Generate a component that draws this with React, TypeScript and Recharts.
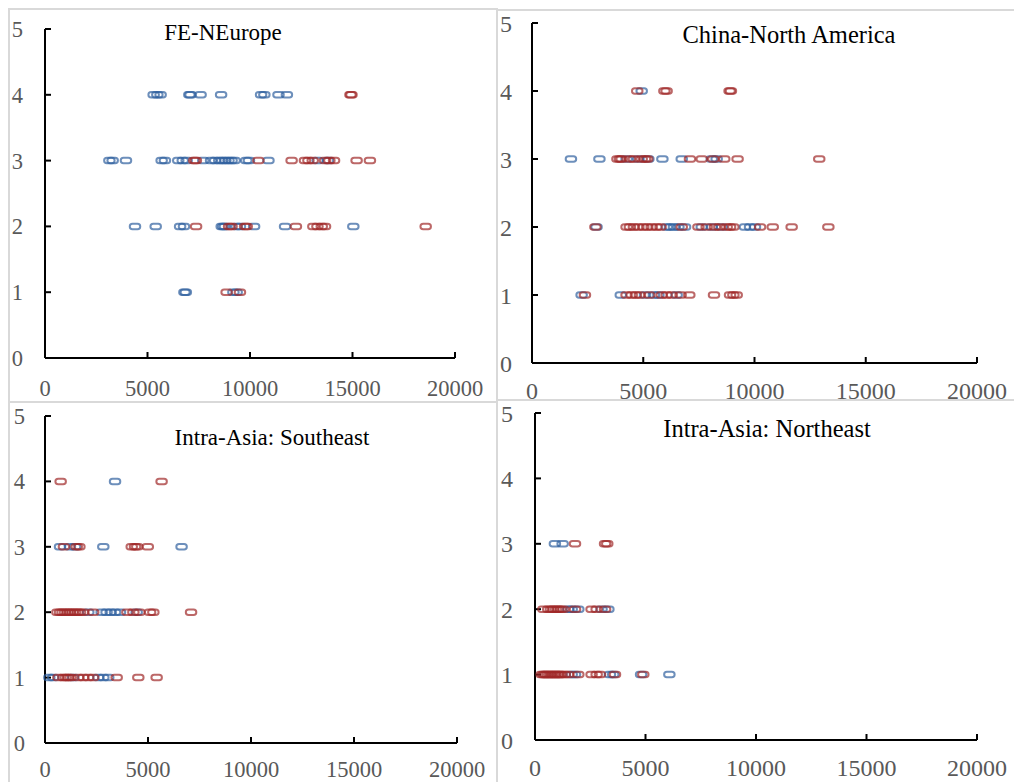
import { ScatterChart, Scatter, XAxis, YAxis } from "recharts";

// [distance, level] pairs per trade lane
type Pt = [number, number];

const X_TICKS = [0, 5000, 10000, 15000, 20000];
const Y_TICKS = [0, 1, 2, 3, 4, 5];

const FE_BLUE: Pt[] = [
  [5300, 4], [5480, 4], [5640, 4], [7040, 4], [7100, 4], [7590, 4], [8590, 4], [10540, 4], [10700, 4], [11390, 4], [11800, 4],
  [3140, 3], [3300, 3], [3950, 3], [5690, 3], [5850, 3], [6500, 3], [6720, 3], [6910, 3], [7720, 3], [8100, 3], [8300, 3],
  [8500, 3], [8650, 3], [8800, 3], [8950, 3], [9100, 3], [9250, 3], [9820, 3], [9950, 3], [10900, 3], [13300, 3], [13800, 3],
  [4390, 2], [5400, 2], [6590, 2], [6780, 2], [8620, 2], [8700, 2], [8780, 2], [9350, 2], [9510, 2], [10200, 2], [11710, 2], [15040, 2],
  [6800, 1], [6870, 1], [9190, 1], [9350, 1],
];
const FE_RED: Pt[] = [
  [14900, 4], [14950, 4],
  [7280, 3], [7360, 3], [10410, 3], [12030, 3], [12680, 3], [12850, 3], [13060, 3], [13660, 3], [13870, 3], [14100, 3], [15200, 3], [15850, 3],
  [7370, 2], [8980, 2], [9100, 2], [9760, 2], [9840, 2], [12240, 2], [13090, 2], [13290, 2], [13500, 2], [13660, 2], [18570, 2],
  [8860, 1], [9510, 1],
];

const CN_BLUE: Pt[] = [
  [4930, 4],
  [1750, 3], [3030, 3], [4250, 3], [4780, 3], [5230, 3], [5860, 3], [6730, 3], [8080, 3], [8300, 3],
  [2900, 2], [6050, 2], [6200, 2], [6380, 2], [6580, 2], [6880, 2], [7630, 2], [8080, 2], [8530, 2], [9570, 2], [9800, 2], [10020, 2],
  [2230, 1], [3990, 1], [5080, 1], [5480, 1], [5680, 1], [6500, 1],
];
const CN_RED: Pt[] = [
  [4730, 4], [5950, 4], [6050, 4], [8880, 4], [8940, 4],
  [3840, 3], [3950, 3], [4030, 3], [4400, 3], [4580, 3], [4930, 3], [5080, 3], [5180, 3], [7100, 3], [7630, 3], [8150, 3], [8640, 3], [9240, 3], [12910, 3],
  [2850, 2], [4250, 2], [4400, 2], [4580, 2], [4780, 2], [5000, 2], [5180, 2], [5380, 2], [5600, 2], [5780, 2], [6730, 2], [7480, 2],
  [7850, 2], [8220, 2], [8420, 2], [8750, 2], [8900, 2], [9050, 2], [10250, 2], [10820, 2], [11670, 2], [13320, 2],
  [2380, 1], [4250, 1], [4480, 1], [4670, 1], [4850, 1], [5270, 1], [5830, 1], [6050, 1], [6280, 1], [6680, 1], [7070, 1], [8180, 1], [8900, 1], [9050, 1], [9200, 1],
];

const SE_BLUE: Pt[] = [
  [3400, 4],
  [730, 3], [1210, 3], [1460, 3], [2830, 3], [6630, 3],
  [2100, 2], [2750, 2], [2990, 2], [3190, 2], [3400, 2], [3640, 2], [4450, 2],
  [210, 1], [400, 1], [1370, 1], [2590, 1], [2830, 1], [3070, 1],
];
const SE_RED: Pt[] = [
  [760, 4], [5660, 4],
  [920, 3], [1540, 3], [1670, 3], [4210, 3], [4370, 3], [4480, 3], [4990, 3],
  [600, 2], [730, 2], [850, 2], [970, 2], [1100, 2], [1210, 2], [1330, 2], [1460, 2], [1580, 2], [1700, 2], [1860, 2], [2340, 2],
  [4000, 2], [4290, 2], [4580, 2], [5100, 2], [5260, 2], [7090, 2],
  [650, 1], [890, 1], [1010, 1], [1130, 1], [1250, 1], [1620, 1], [1860, 1], [2100, 1], [2340, 1], [3480, 1], [4530, 1], [5420, 1],
];

const NE_BLUE: Pt[] = [
  [900, 3], [1250, 3],
  [1510, 2], [1660, 2], [1960, 2], [3010, 2], [3320, 2],
  [1660, 1], [1810, 1], [3390, 1], [3540, 1], [4800, 1], [6080, 1],
];
const NE_RED: Pt[] = [
  [1810, 3], [3170, 3], [3270, 3],
  [380, 2], [600, 2], [720, 2], [830, 2], [950, 2], [1050, 2], [1160, 2], [1280, 2], [1810, 2], [2560, 2], [2790, 2], [3170, 2],
  [300, 1], [380, 1], [450, 1], [520, 1], [600, 1], [680, 1], [750, 1], [830, 1], [900, 1], [980, 1], [1050, 1], [1130, 1],
  [1200, 1], [1350, 1], [1510, 1], [1960, 1], [2560, 1], [2790, 1], [2940, 1], [3620, 1], [4900, 1],
];

const BLUE = "#2f5f9e";
const RED = "#a02828";
const FONT = "Liberation Serif";

const toRows = (pts: Pt[]) => pts.map(([x, y]) => ({ x, y }));

// hollow rounded "pill" marker
const pill = (color: string) => (p: any) => (
  <rect
    x={p.cx - 5.25}
    y={p.cy - 2.75}
    width={10.5}
    height={5.5}
    rx={2.75}
    ry={2.75}
    fill="none"
    stroke={color}
    strokeOpacity={0.7}
    strokeWidth={2}
  />
);

// chart boxes; the top row gets a little extra height so the x labels are not clipped
const PANELS = [
  { title: "FE-NEurope", blue: FE_BLUE, red: FE_RED, left: 0, top: 0, width: 500, height: 412, plot: { l: 45, r: 455, t: 29, b: 358 }, font: 22.5, gapX: 28, gapY: 28 },
  { title: "China-North America", blue: CN_BLUE, red: CN_RED, left: 500, top: 0, width: 514, height: 412, plot: { l: 32, r: 477, t: 23, b: 363 }, font: 24, gapX: 25, gapY: 26 },
  { title: "Intra-Asia: Southeast", blue: SE_BLUE, red: SE_RED, left: 0, top: 400, width: 500, height: 382, plot: { l: 45, r: 457, t: 16, b: 343 }, font: 22.5, gapX: 24, gapY: 26 },
  { title: "Intra-Asia: Northeast", blue: NE_BLUE, red: NE_RED, left: 500, top: 400, width: 514, height: 382, plot: { l: 35, r: 477, t: 13, b: 340 }, font: 24, gapX: 25, gapY: 28 },
];

const TITLES = [
  { x: 223, y: 40, size: 23 },
  { x: 789, y: 43, size: 24.5 },
  { x: 272, y: 445, size: 23 },
  { x: 767, y: 437, size: 24.5 },
];

// serif tick labels, anchored the way Recharts computes them
const serifTick = (size: number, axis: "x" | "y") => (p: any) => (
  <text
    x={p.x}
    y={p.y}
    textAnchor={axis === "x" ? "middle" : "end"}
    dy={axis === "x" ? "0.71em" : "0.355em"}
    fontFamily={FONT}
    fontSize={size}
    fill="#595959"
  >
    {p.payload.value}
  </text>
);

function Panel({ cfg }: { cfg: (typeof PANELS)[number] }) {
  const { left, top, width, height, plot, font, gapX, gapY } = cfg;
  const axisStyle = { stroke: "#000", strokeWidth: 2 };
  return (
    <div style={{ position: "absolute", left, top, width, height }}>
      <ScatterChart
        width={width}
        height={height}
        margin={{ top: plot.t, right: width - plot.r, bottom: 0, left: 0 }}
      >
        <XAxis
          type="number"
          dataKey="x"
          domain={[0, 20000]}
          ticks={X_TICKS}
          interval={0}
          height={height - plot.b}
          tickSize={-6}
          tickMargin={gapX}
          axisLine={axisStyle}
          tickLine={axisStyle}
          tick={serifTick(font, "x")}
        />
        <YAxis
          type="number"
          dataKey="y"
          domain={[0, 5]}
          ticks={Y_TICKS}
          interval={0}
          width={plot.l}
          tickSize={-6}
          tickMargin={gapY}
          axisLine={axisStyle}
          tickLine={axisStyle}
          tick={serifTick(font, "y")}
        />
        <Scatter data={toRows(cfg.blue)} shape={pill(BLUE)} isAnimationActive={false} />
        <Scatter data={toRows(cfg.red)} shape={pill(RED)} isAnimationActive={false} />
      </ScatterChart>
    </div>
  );
}

export default function App() {
  return (
    <div style={{ position: "absolute", left: 0, top: 0, width: 1014, height: 782, background: "#fff", overflow: "hidden" }}>
      <svg width={1014} height={782} style={{ position: "absolute", left: 0, top: 0, pointerEvents: "none" }}>
        <g stroke="#d9d9d9" strokeWidth={2} fill="none">
          <rect x={9} y={9} width={488} height={393} />
          <line x1={497} y1={10} x2={1014} y2={10} />
          <line x1={497} y1={400} x2={1014} y2={400} />
          <line x1={9} y1={402} x2={9} y2={782} />
          <line x1={497} y1={402} x2={497} y2={782} />
        </g>
        {PANELS.map((p, i) => (
          <text
            key={p.title}
            x={TITLES[i].x}
            y={TITLES[i].y}
            textAnchor="middle"
            fontFamily={FONT}
            fontSize={TITLES[i].size}
            fill="#000"
          >
            {p.title}
          </text>
        ))}
      </svg>
      {PANELS.map((p) => (
        <Panel key={p.title} cfg={p} />
      ))}
    </div>
  );
}
